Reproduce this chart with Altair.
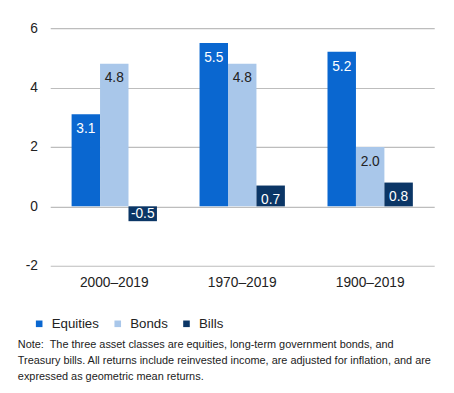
import altair as alt
import pandas as pd

periods = ["2000–2019", "1970–2019", "1900–2019"]
assets = ["Equities", "Bonds", "Bills"]
equities = [3.1, 5.5, 5.2]
bonds = [4.8, 4.8, 2.0]
bills = [-0.5, 0.7, 0.8]
colors = ["#0a67d0", "#a9c7ea", "#0b3666"]
y_ticks = [-2, 0, 2, 4, 6]
note_lines = [
    "Note:\u00a0 The three asset classes are equities, long-term government bonds, and",
    "Treasury bills. All returns include reinvested income, are adjusted for inflation, and are",
    "expressed as geometric mean returns.",
]

rows = []
for i, p in enumerate(periods):
    for a, vals in zip(assets, [equities, bonds, bills]):
        rows.append({"period": p, "asset": a, "value": vals[i]})
df = pd.DataFrame(rows)

FONT = "Liberation Sans"

x = alt.X("period:N", sort=periods, title=None,
          scale=alt.Scale(paddingInner=0.333, paddingOuter=0.167),
          axis=alt.Axis(labelAngle=0, domain=False, ticks=False, labelPadding=10,
                        labelFontSize=14, labelColor="#222", labelFont=FONT))
xo = alt.XOffset("asset:N", sort=assets, scale=alt.Scale(paddingInner=0, paddingOuter=0))
y = alt.Y("value:Q", title=None,
          scale=alt.Scale(domain=[-2, 6], nice=False),
          axis=alt.Axis(values=y_ticks, domain=False, ticks=False, labelPadding=13,
                        labelExpr="'' + datum.value",
                        labelFontSize=14, labelColor="#222", labelFont=FONT,
                        gridColor="#bdbdbd", gridWidth=1.2))

base = alt.Chart(df).transform_calculate(
    label="replace(format(datum.value, '.1f'), '\u2212', '-')"
)

bars = base.mark_bar().encode(
    x=x, xOffset=xo, y=y,
    color=alt.Color("asset:N", sort=assets, title=None,
                    scale=alt.Scale(domain=assets, range=colors),
                    legend=alt.Legend(orient="none", legendX=-18, legendY=294,
                                      direction="horizontal", symbolType="square",
                                      symbolSize=45, labelFontSize=13.5, labelFont=FONT,
                                      labelColor="#222", labelOffset=6, columnPadding=12,
                                      symbolStrokeWidth=0)),
)

text_color = alt.condition(alt.datum.asset == "Bonds", alt.value("#222"), alt.value("white"))

pos_text = base.transform_filter(alt.datum.value >= 0).mark_text(
    baseline="middle", dy=15, fontSize=14, font=FONT
).encode(x=x, xOffset=xo, y=y, text="label:N", color=text_color)

neg_text = base.transform_filter(alt.datum.value < 0).mark_text(
    baseline="middle", dy=-7, fontSize=14, font=FONT
).encode(x=x, xOffset=xo, y=y, text="label:N", color=text_color)

chart = alt.layer(bars, pos_text, neg_text).properties(
    width=391, height=242,
    autosize=alt.AutoSizeParams(type="none"),
    padding={"left": 43, "top": 17, "right": 12, "bottom": 119},
    title=alt.TitleParams(text=note_lines, orient="bottom", anchor="start", frame="group",
                          fontSize=11.1, font=FONT, fontWeight="normal", color="#222",
                          lineHeight=16, offset=9, dx=-33),
).configure_view(stroke=None)

chart.save("out.html", embed_options={"renderer": "svg", "actions": False})
